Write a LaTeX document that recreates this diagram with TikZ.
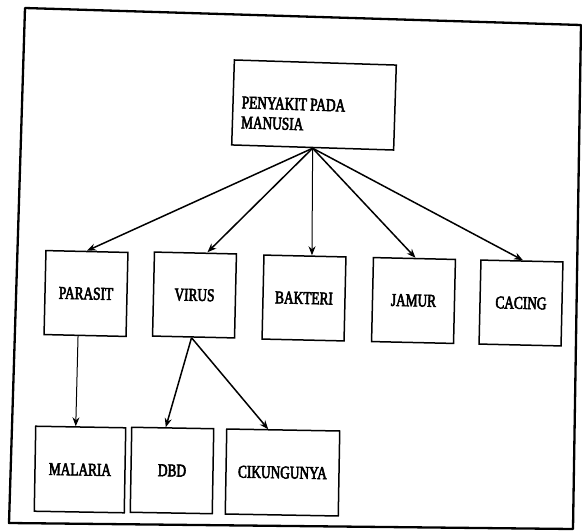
\documentclass[tikz,border=0pt]{standalone}
\usepackage{fontspec}
\newfontfamily\diagfont[FakeStretch=0.74,FakeBold=3]{Liberation Serif}
\usetikzlibrary{arrows.meta,calc}

\tikzset{
  box/.style={draw=black, line width=1.5pt, inner sep=0pt, fill=white,
              minimum width=82pt, minimum height=84pt,
              font=\diagfont\fontsize{18}{20}\selectfont},
  label/.style={inner sep=0pt, font=\diagfont\fontsize{18}{20}\selectfont},
  link/.style={draw=black, line width=1.5pt,
               -{Stealth[length=9pt,width=7pt]}},
  thinlink/.style={link, line width=1pt},
  frameline/.style={draw=black, line width=2.3pt, line join=round}
}

\begin{document}
\begin{tikzpicture}[x=1pt,y=-1pt]
  \useasboundingbox (0,0) rectangle (582,531);

  % outer frame
  \coordinate (f1) at (25,8);
  \coordinate (f2) at (581,25);
  \coordinate (f3) at (573,529);
  \coordinate (f4) at (9,523);
  \draw[frameline] (f1) -- (f2) -- (f3) -- (f4) -- cycle;

  % root
  \node[box, minimum width=162pt, minimum height=85pt, rotate=-1.8] (root) at (314,105) {};
  \node[label, anchor=west, align=left, rotate=-1.8] (roottext)
       at ([shift={(9,10)}]root.west) {PENYAKIT PADA\\MANUSIA};

  % second level
  \node[box, rotate=-1.3] (parasit) at (86,293.5)  {PARASIT};
  \node[box, rotate=-1.3] (virus)   at (194.5,295) {VIRUS};
  \node[box, rotate=-1.3] (bakteri) at (304,298)   {BAKTERI};
  \node[box, rotate=-1.3] (jamur)   at (413.5,300.5) {JAMUR};
  \node[box, rotate=-1.3] (cacing)  at (521,303)   {CACING};

  % third level
  \node[box, minimum width=90pt, minimum height=85pt, rotate=-1] (malaria) at (80,469.5) {MALARIA};
  \node[box, minimum height=85pt, rotate=-1] (dbd) at (172,470.5) {DBD};
  \node[box, minimum width=113pt, minimum height=85pt, rotate=-1] (cik) at (282.5,472.5) {CIKUNGUNYA};

  % connectors
  \draw[link] (root.south) -- (parasit.north);
  \draw[link] (root.south) -- ([xshift=12pt]virus.north);
  \draw[thinlink] (root.south) -- ([xshift=7pt]bakteri.north);
  \draw[link] (root.south) -- ([xshift=1pt]jamur.north);
  \draw[link] (root.south) -- ([xshift=1pt]cacing.north);

  \draw[thinlink] ([xshift=-7pt]parasit.south) -- ([xshift=-5pt]malaria.north);
  \draw[link] ([xshift=-2pt]virus.south) -- ([xshift=-7pt]dbd.north);
  \draw[link] ([xshift=-2pt]virus.south) -- ([xshift=-15pt]cik.north);
\end{tikzpicture}
\end{document}
